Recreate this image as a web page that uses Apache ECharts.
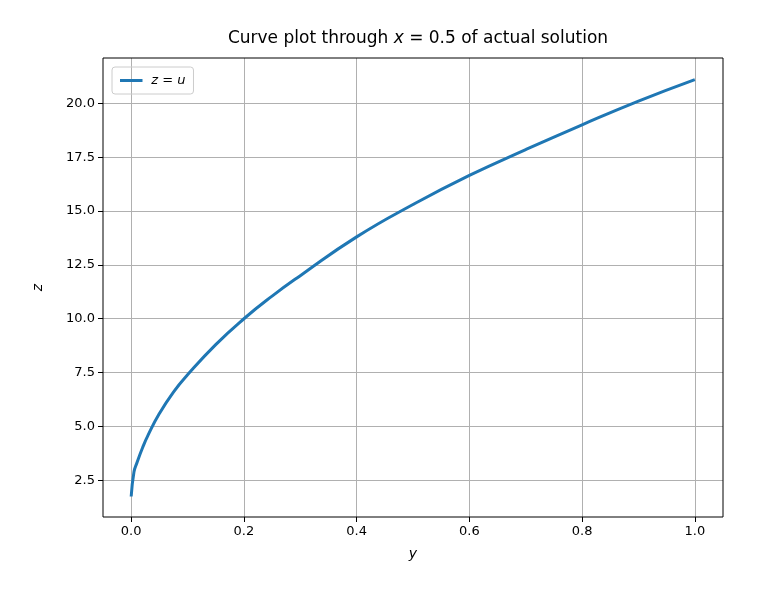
<!DOCTYPE html>
<html lang="en" style="height: 100%">
<head>
    <meta charset="utf-8">
    <title>ECharts</title>
    <script src="https://cdn.jsdelivr.net/npm/echarts@6/dist/echarts.min.js"></script>
</head>
<body style="height: 100%; margin: 0">
<div id="main" style="width:768px;height:593px"></div>
<script type="text/javascript">
    // values
    var yVals = [0, 0.005, 0.01, 0.02, 0.03, 0.05, 0.075, 0.1, 0.15, 0.2, 0.25, 0.3, 0.4, 0.5, 0.6, 0.7, 0.8, 0.9, 1.0];
    var zVals = [1.75, 2.9, 3.3, 4.0, 4.6, 5.6, 6.6, 7.4, 8.8, 10.0, 11.05, 12.0, 13.8, 15.3, 16.65, 17.85, 19.0, 20.1, 21.1];
    var xTicks = [0, 0.2, 0.4, 0.6, 0.8, 1.0];
    var zTicks = [2.5, 5, 7.5, 10, 12.5, 15, 17.5, 20];

    var data = [];
    for (var i = 0; i < yVals.length; i++) data.push([yVals[i], zVals[i]]);

    var font = 'DejaVu Sans';
    var chart = echarts.init(document.getElementById('main'));
    var option = {
        animation: false,
        textStyle: {fontFamily: font},
        title: {
            text: 'Curve plot through {i|x} = 0.5 of actual solution',
            left: 413, top: 25, textAlign: 'center',
            textStyle: {
                fontSize: 17, fontWeight: 'normal', color: '#000', fontFamily: font,
                rich: {i: {fontStyle: 'italic', fontSize: 17, fontFamily: font}}
            }
        },
        legend: {
            left: 112, top: 67,
            data: ['z = u'],
            icon: 'path://M0,0 L30,0 L30,4 L0,4 Z',
            itemWidth: 30, itemHeight: 3,
            padding: [7, 8],
            borderColor: '#ccc', borderWidth: 1, borderRadius: 3,
            textStyle: {fontSize: 13, fontStyle: 'italic', color: '#000'}
        },
        grid: {left: 103, right: 45, top: 58, bottom: 76},
        xAxis: {
            type: 'value', min: -0.05, max: 1.05,
            name: 'y', nameLocation: 'middle', nameGap: 30,
            nameTextStyle: {fontStyle: 'italic', fontSize: 14, color: '#000'},
            axisLine: {show: false, onZero: false},
            axisTick: {show: true, customValues: xTicks, lineStyle: {color: '#000'}},
            axisLabel: {customValues: xTicks, fontSize: 13, color: '#000', formatter: function (v) { return v.toFixed(1); }},
            splitLine: {show: true, customValues: xTicks, lineStyle: {color: '#b0b0b0'}}
        },
        yAxis: {
            type: 'value', min: 0.8, max: 22.1,
            name: 'z', nameLocation: 'middle', nameGap: 58,
            nameTextStyle: {fontStyle: 'italic', fontSize: 14, color: '#000'},
            axisLine: {show: false, onZero: false},
            axisTick: {show: true, customValues: zTicks, lineStyle: {color: '#000'}},
            axisLabel: {customValues: zTicks, fontSize: 13, color: '#000', formatter: function (v) { return v.toFixed(1); }},
            splitLine: {show: true, customValues: zTicks, lineStyle: {color: '#b0b0b0'}}
        },
        graphic: [{
            type: 'rect', shape: {x: 103, y: 58, width: 620, height: 459},
            style: {fill: 'none', stroke: '#000', lineWidth: 1}, z: 100
        }],
        series: [{
            name: 'z = u', type: 'line', data: data, smooth: true,
            symbol: 'none', lineStyle: {width: 3, color: '#1f77b4'}, itemStyle: {color: '#1f77b4'}
        }]
    };
    chart.setOption(option);
</script>
</body>
</html>
